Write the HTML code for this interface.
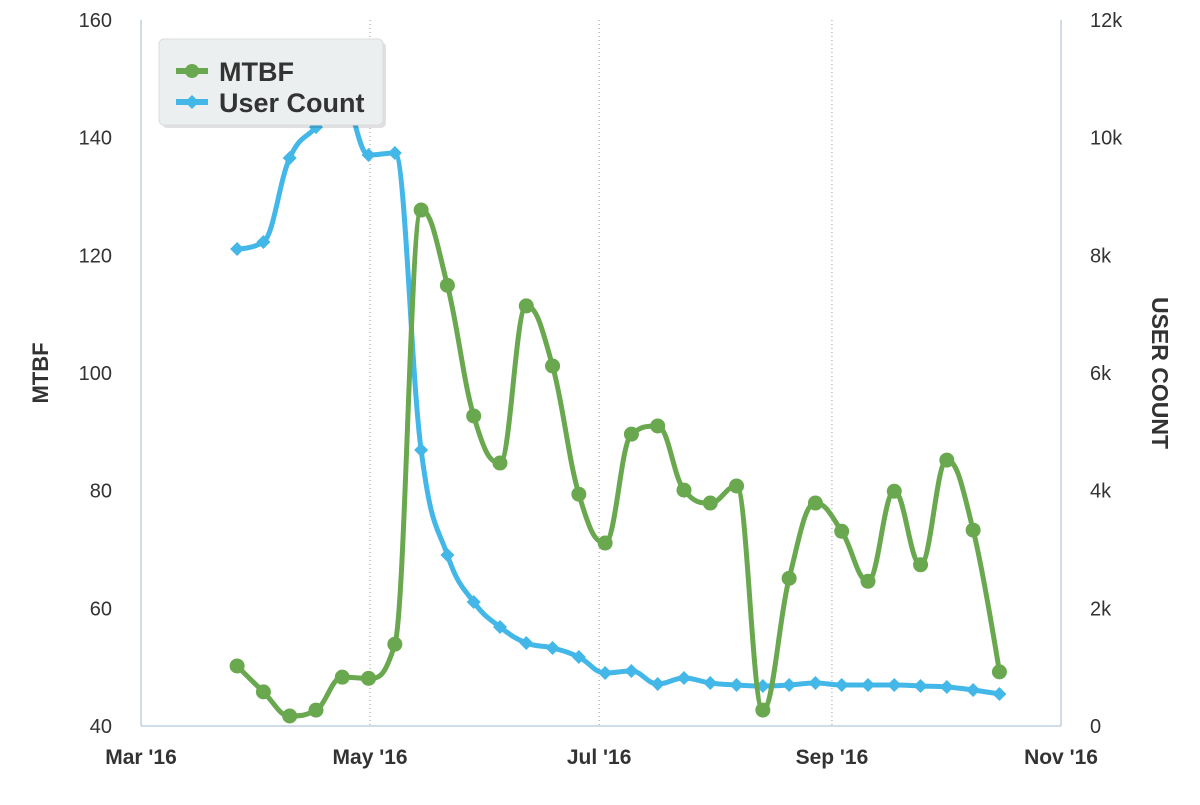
<!DOCTYPE html>
<html><head><meta charset="utf-8"><style>
body{margin:0;background:#fff;}
svg text{font-family:"Liberation Sans",Arial,sans-serif;}
</style></head><body>
<svg id="chart" width="1200" height="800">
<g id="grid"></g><g id="axes"></g><g id="series"></g>
<g>
<rect x="162" y="42" width="224" height="86" rx="5" fill="#000" opacity="0.12"/>
<rect x="159" y="39" width="224" height="86" rx="5" fill="#eceff0" stroke="#d8dcde"/>
<g>
<line x1="176" y1="71" x2="208" y2="71" stroke="#69a84f" stroke-width="6"/><circle cx="192" cy="71" r="7" fill="#69a84f"/>
<text x="219" y="81" font-size="27" font-weight="bold" fill="#333">MTBF</text></g>
<g>
<line x1="176" y1="102" x2="208" y2="102" stroke="#42b7e8" stroke-width="6"/><path d="M192 95 L199 102 L192 109 L185 102Z" fill="#42b7e8"/>
<text x="219" y="112" font-size="27" font-weight="bold" fill="#333">User Count</text></g>
</g>
</svg>
<script>
const mtbf=[50.2,45.8,41.7,42.7,48.3,48.1,53.9,127.7,114.9,92.7,84.7,111.4,101.2,79.4,71.1,89.6,91,80.1,77.9,80.8,42.7,65.1,77.9,73.1,64.6,79.9,67.4,85.2,73.3,49.2];
const users=[8108,8227,9655,10180,10700,9705,9740,4691,2906,2108,1683,1411,1326,1173,901,935,714,816,731,697,680,697,731,697,697,697,680,663,612,544];
const leftTicks=[40,60,80,100,120,140,160];
const rightTicks=[0,2000,4000,6000,8000,10000,12000];
const rightLabels=["0","2k","4k","6k","8k","10k","12k"];
const monthLabels=["Mar '16","May '16","Jul '16","Sep '16","Nov '16"];
const monthDays=[0,61,122,184,245];
const firstDay=25.6, stepDays=7;
const X0=141,X1=1061,Y0=726,Y1=20;
const xs=d=>X0+d/245*(X1-X0);
const yl=v=>Y0-(v-40)/120*(Y0-Y1);
const yr=v=>Y0-v/12000*(Y0-Y1);
const NS="http://www.w3.org/2000/svg";
function mk(tag,attrs,parent,text){const e=document.createElementNS(NS,tag);for(const k in attrs)e.setAttribute(k,attrs[k]);if(text!==undefined)e.textContent=text;parent.appendChild(e);return e;}
const grid=document.getElementById('grid'),axes=document.getElementById('axes'),ser=document.getElementById('series');
monthDays.forEach((d,i)=>{
 const x=xs(d);
 if(i>0&&i<monthDays.length-1){const g=mk('line',{x1:x,x2:x,y1:Y1,y2:Y0,stroke:'#999','stroke-dasharray':'1,3'},grid);
 
 }
 const t=mk('text',{x:x,y:764,'text-anchor':'middle','font-size':21,'font-weight':'bold',fill:'#333'},axes,monthLabels[i]);
 
 
});
mk('line',{x1:X0,x2:X0,y1:Y1,y2:Y0,stroke:'#c0d0e0','stroke-width':1.5},axes);
mk('line',{x1:X1,x2:X1,y1:Y1,y2:Y0,stroke:'#c0d0e0','stroke-width':1.5},axes);
mk('line',{x1:X0,x2:X1,y1:Y0,y2:Y0,stroke:'#c0d0e0','stroke-width':1.5},axes);
leftTicks.forEach(v=>{const t=mk('text',{x:112,y:yl(v)+7,'text-anchor':'end','font-size':20,fill:'#333'},axes,v);
 
 });
rightTicks.forEach((v,i)=>{const t=mk('text',{x:1090,y:yr(v)+7,'text-anchor':'start','font-size':20,fill:'#333'},axes,rightLabels[i]);
 
 });
const lt=mk('text',{x:48,y:373,'text-anchor':'middle','font-size':22,'font-weight':'bold',fill:'#333',transform:'rotate(-90 48 373)'},axes,'MTBF');


const rt=mk('text',{x:1152,y:373,'text-anchor':'middle','font-size':23,'font-weight':'bold',fill:'#333',transform:'rotate(90 1152 373)'},axes,'USER COUNT');


function spline(pts){
 const s=1.5,den=s+1;let d='M'+pts[0][0]+' '+pts[0][1];
 const ctrl=[];
 for(let i=0;i<pts.length;i++){
  if(i===0||i===pts.length-1){ctrl.push([pts[i],pts[i]]);continue;}
  const [px,py]=pts[i-1],[x,y]=pts[i],[nx,ny]=pts[i+1];
  let lx=(s*x+px)/den,ly=(s*y+py)/den,rx=(s*x+nx)/den,ry=(s*y+ny)/den;
  const corr=((ry-ly)*(rx-x))/(rx-lx)+y-ry;ly+=corr;ry+=corr;
  if(ly>py&&ly>y){ly=Math.max(py,y);ry=2*y-ly;}
  else if(ly<py&&ly<y){ly=Math.min(py,y);ry=2*y-ly;}
  if(ry>ny&&ry>y){ry=Math.max(ny,y);ly=2*y-ry;}
  else if(ry<ny&&ry<y){ry=Math.min(ny,y);ly=2*y-ry;}
  ctrl.push([[lx,ly],[rx,ry]]);
 }
 for(let i=1;i<pts.length;i++){const a=ctrl[i-1][1],b=ctrl[i][0];d+=` C${a[0]} ${a[1]} ${b[0]} ${b[1]} ${pts[i][0]} ${pts[i][1]}`;}
 return d;
}
function draw(vals,yf,color,name,marker){
 const pts=vals.map((v,i)=>[xs(firstDay+i*stepDays),yf(v)]);
 const p=mk('path',{d:spline(pts),fill:'none',stroke:color,'stroke-width':5,'stroke-linejoin':'round'},ser);
 
 
 pts.forEach(([x,y])=>{
  let m;
  if(marker==='circle')m=mk('circle',{cx:x,cy:y,r:7.5,fill:color},ser);
  else m=mk('path',{d:`M${x} ${y-7} L${x+7} ${y} L${x} ${y+7} L${x-7} ${y}Z`,fill:color},ser);
  
  
 });
}
draw(users,yr,'#42b7e8','user-count','diamond');
draw(mtbf,yl,'#69a84f','mtbf','circle');
</script>
</body></html>
